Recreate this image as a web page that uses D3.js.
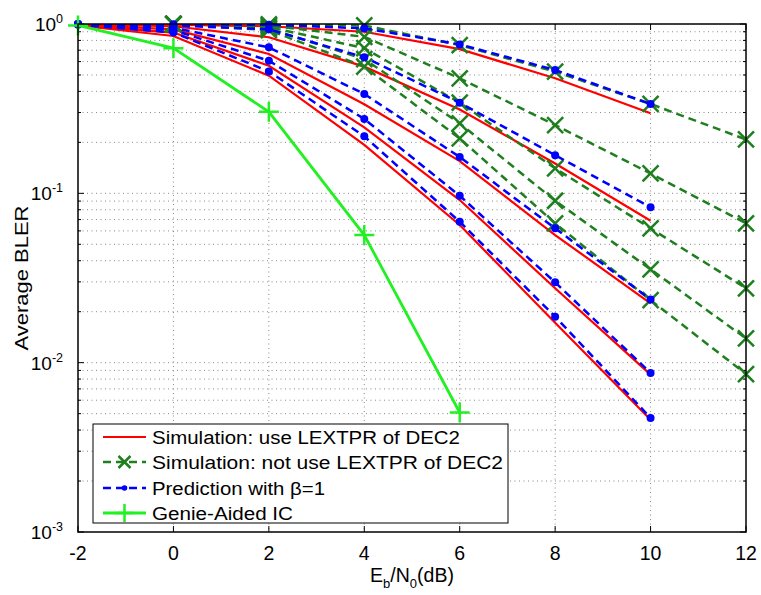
<!DOCTYPE html>
<html><head><meta charset="utf-8">
<script src="https://d3js.org/d3.v7.min.js"></script>
<style>body{margin:0;background:#fff}svg{display:block}text{font-family:"Liberation Sans",Arial,sans-serif}</style>
</head><body><svg id="c" width="761" height="595"></svg>
<script>
const ebn0 = [-2, 0, 2, 4, 6, 8, 10];
const ebn0Ext = [-2, 0, 2, 4, 6, 8, 10, 12];
const ebn0Genie = [-2, 0, 2, 4, 6];

const simUse = [
  [1.0, 0.99, 0.97, 0.90, 0.71, 0.478, 0.297],
  [0.995, 0.97, 0.835, 0.56, 0.313, 0.150, 0.0689],
  [0.99, 0.93, 0.665, 0.336, 0.155, 0.0567, 0.0224],
  [0.985, 0.89, 0.567, 0.245, 0.0913, 0.0275, 0.0085],
  [0.98, 0.85, 0.495, 0.193, 0.065, 0.0172, 0.0046]
];
const simNotUse = [
  [1.0, 1.0, 0.995, 0.98, 0.751, 0.523, 0.337, 0.208],
  [1.0, 1.0, 0.98, 0.84, 0.478, 0.253, 0.131, 0.0665],
  [1.0, 1.0, 0.96, 0.72, 0.343, 0.1405, 0.0621, 0.0275],
  [1.0, 1.0, 0.94, 0.62, 0.259, 0.0904, 0.0356, 0.0139],
  [1.0, 1.0, 0.92, 0.56, 0.211, 0.0665, 0.0234, 0.00857]
];
const prediction = [
  [1.0, 0.995, 0.99, 0.943, 0.758, 0.535, 0.337],
  [1.0, 0.98, 0.93, 0.636, 0.343, 0.168, 0.0827],
  [1.0, 0.95, 0.728, 0.386, 0.164, 0.0621, 0.0236],
  [0.995, 0.92, 0.607, 0.275, 0.0968, 0.0298, 0.0087],
  [0.99, 0.89, 0.525, 0.217, 0.068, 0.0187, 0.00472]
];
const genie = [0.98, 0.72, 0.303, 0.0567, 0.00508];

const xTicks = [-2, 0, 2, 4, 6, 8, 10, 12];
const yDecades = [-3, -2, -1, 0];
const legendLabels = ["Simulation: use LEXTPR of DEC2", "Simulation: not use LEXTPR of DEC2", "Prediction with \u03b2=1", "Genie-Aided IC"];
const legendWidths = [308, 351, 173, 141];

const L = 78, R = 746, T = 24, B = 532;
const svg = d3.select("#c");
const x = d3.scaleLinear().domain([-2, 12]).range([L, R]);
const y = d3.scaleLog().domain([1e-3, 1]).range([B, T]);

const RED = "#ff0000", DGREEN = "#1f7f1f", BLUE = "#0000ff", LGREEN = "#22f022";

// grid
const grid = svg.append("g").attr("stroke", "#888").attr("stroke-width", 1).attr("stroke-dasharray", "1,3.5");
xTicks.slice(1, -1).forEach(t => grid.append("line").attr("x1", x(t)).attr("x2", x(t)).attr("y1", T).attr("y2", B));
const minorVals = [];
for (let d = -3; d < 0; d++) for (let m = 1; m <= 9; m++) { const v = m * Math.pow(10, d); if (!(d === -3 && m === 1)) minorVals.push(v); }
minorVals.forEach(v => grid.append("line").attr("x1", L).attr("x2", R).attr("y1", y(v)).attr("y2", y(v)));

// ticks
const tk = svg.append("g").attr("stroke", "#000").attr("stroke-width", 1);
xTicks.forEach(t => {
  tk.append("line").attr("x1", x(t)).attr("x2", x(t)).attr("y1", B).attr("y2", B - 6);
  tk.append("line").attr("x1", x(t)).attr("x2", x(t)).attr("y1", T).attr("y2", T + 6);
});
minorVals.concat([1e-3, 1]).forEach(v => {
  const major = Math.abs(Math.log10(v) - Math.round(Math.log10(v))) < 1e-9;
  const len = major ? 6 : 3;
  tk.append("line").attr("x1", L).attr("x2", L + len).attr("y1", y(v)).attr("y2", y(v));
  tk.append("line").attr("x1", R).attr("x2", R - len).attr("y1", y(v)).attr("y2", y(v));
});

// tick labels
xTicks.forEach(t => svg.append("text").attr("x", x(t)).attr("y", 560).attr("text-anchor", "middle").attr("font-size", 19.5).text(t));
yDecades.forEach(d => {
  const tx = svg.append("text").attr("x", 63).attr("y", y(Math.pow(10, d)) + 7).attr("text-anchor", "end").attr("font-size", 19);
  tx.append("tspan").text("10");
  tx.append("tspan").attr("dy", -8).attr("font-size", 12.5).text(d);
});

// clip
svg.append("clipPath").attr("id", "clip").append("rect").attr("x", L).attr("y", T).attr("width", R - L).attr("height", B - T);

const line = d3.line().x(d => x(d[0])).y(d => y(d[1]));
const plot = svg.append("g");

function drawX(g, px, py, s, col) {
  g.append("path").attr("d", `M${px - s},${py - s}L${px + s},${py + s}M${px - s},${py + s}L${px + s},${py - s}`).attr("stroke", col).attr("stroke-width", 2.5).attr("fill", "none");
}
function drawPlus(g, px, py, s, col) {
  g.append("path").attr("d", `M${px - s},${py}L${px + s},${py}M${px},${py - s}L${px},${py + s}`).attr("stroke", col).attr("stroke-width", 2.5).attr("fill", "none");
}

for (let i = 0; i < 5; i++) {
  const r = ebn0.map((e, k) => [e, simUse[i][k]]);
  plot.append("path").datum(r).attr("d", line).attr("fill", "none").attr("stroke", RED).attr("stroke-width", 2.2).attr("clip-path", "url(#clip)");
}
for (let i = 0; i < 5; i++) {
  const g = ebn0Ext.map((e, k) => [e, simNotUse[i][k]]);
  plot.append("path").datum(g).attr("d", line).attr("fill", "none").attr("stroke", DGREEN).attr("stroke-width", 2.5).attr("stroke-dasharray", "8,5").attr("clip-path", "url(#clip)");
  g.forEach(p => { if (p[0] > -2) drawX(plot, x(p[0]), y(p[1]), 8, DGREEN); });
}
for (let i = 0; i < 5; i++) {
  const b = ebn0.map((e, k) => [e, prediction[i][k]]);
  plot.append("path").datum(b).attr("d", line).attr("fill", "none").attr("stroke", BLUE).attr("stroke-width", 2.5).attr("stroke-dasharray", "8,5").attr("clip-path", "url(#clip)");
  b.forEach(p => plot.append("circle").attr("cx", x(p[0])).attr("cy", y(p[1])).attr("r", 4).attr("fill", BLUE));
}
{
  const gg = ebn0Genie.map((e, k) => [e, genie[k]]);
  plot.append("path").datum(gg).attr("d", line).attr("fill", "none").attr("stroke", LGREEN).attr("stroke-width", 2.8);
  gg.forEach(p => drawPlus(plot, x(p[0]), y(p[1]), 10, LGREEN));
}

// axes box
svg.append("rect").attr("x", L).attr("y", T).attr("width", R - L).attr("height", B - T).attr("fill", "none").attr("stroke", "#000").attr("stroke-width", 1.5);

// legend
const lg = svg.append("g");
lg.append("rect").attr("x", 93).attr("y", 424).attr("width", 415).attr("height", 99).attr("fill", "#fff").attr("stroke", "#000").attr("stroke-width", 1);
const ly = [437, 462, 488, 513];
const lx1 = 103, lx2 = 146;
lg.append("line").attr("x1", lx1).attr("x2", lx2).attr("y1", ly[0]).attr("y2", ly[0]).attr("stroke", RED).attr("stroke-width", 2.2);
lg.append("line").attr("x1", lx1).attr("x2", lx2).attr("y1", ly[1]).attr("y2", ly[1]).attr("stroke", DGREEN).attr("stroke-width", 2.5).attr("stroke-dasharray", "8,5");
drawX(lg, (lx1 + lx2) / 2, ly[1], 6, DGREEN);
lg.append("line").attr("x1", lx1).attr("x2", lx2).attr("y1", ly[2]).attr("y2", ly[2]).attr("stroke", BLUE).attr("stroke-width", 2.5).attr("stroke-dasharray", "8,5");
lg.append("circle").attr("cx", (lx1 + lx2) / 2).attr("cy", ly[2]).attr("r", 2.8).attr("fill", BLUE);
lg.append("line").attr("x1", lx1).attr("x2", lx2).attr("y1", ly[3]).attr("y2", ly[3]).attr("stroke", LGREEN).attr("stroke-width", 2.8);
drawPlus(lg, (lx1 + lx2) / 2, ly[3], 9, LGREEN);
legendLabels.forEach((t, i) => lg.append("text").attr("x", 152).attr("y", ly[i] + 7).attr("font-size", 18)
  .attr("textLength", legendWidths[i]).attr("lengthAdjust", "spacingAndGlyphs").text(t));

// axis labels
svg.append("text").attr("transform", "translate(28,278) rotate(-90)").attr("text-anchor", "middle").attr("font-size", 18)
  .attr("textLength", 145).attr("lengthAdjust", "spacingAndGlyphs").text("Average BLER");
const xl = svg.append("text").attr("x", 412).attr("y", 582).attr("text-anchor", "middle").attr("font-size", 19.5);
xl.append("tspan").text("E");
xl.append("tspan").attr("dy", 6).attr("font-size", 13).text("b");
xl.append("tspan").attr("dy", -6).text("/N");
xl.append("tspan").attr("dy", 6).attr("font-size", 13).text("0");
xl.append("tspan").attr("dy", -6).text("(dB)");
</script></body></html>
